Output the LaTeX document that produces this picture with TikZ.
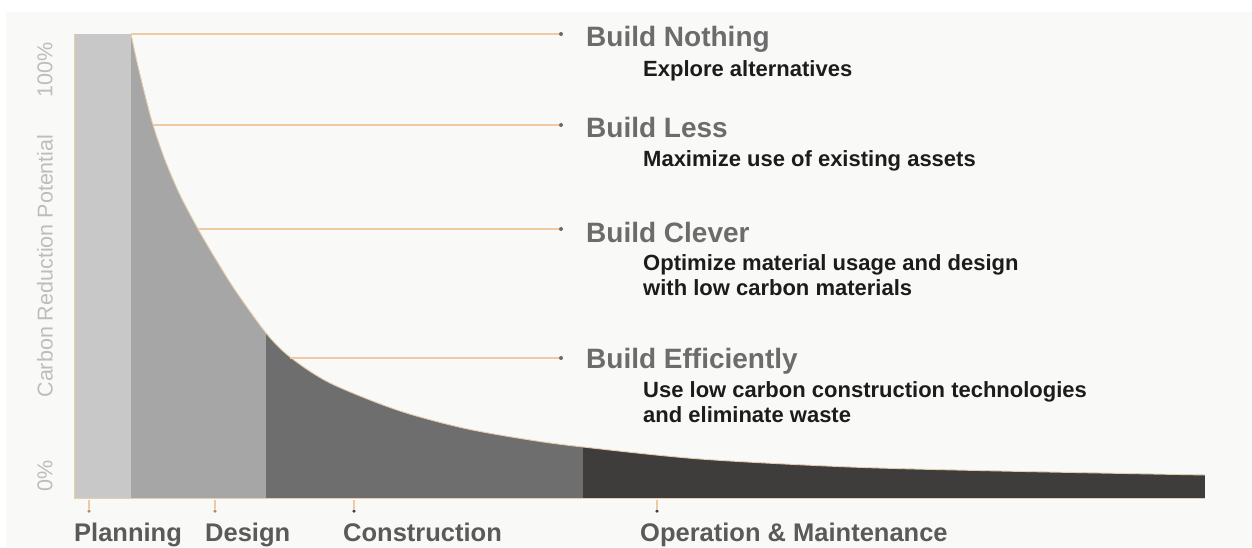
\documentclass[tikz,border=0pt]{standalone}
\usepackage{fontspec}
\setmainfont{Liberation Sans}
\definecolor{panel}{HTML}{F9F9F7}
\definecolor{cplan}{HTML}{C8C8C8}
\definecolor{cdesign}{HTML}{A6A6A6}
\definecolor{cconst}{HTML}{6E6E6E}
\definecolor{coper}{HTML}{3F3D3B}
\definecolor{lead}{HTML}{F0C9A2}
\definecolor{edge}{HTML}{E6CDAE}
\definecolor{titlegrey}{HTML}{6C6C6C}
\definecolor{subblack}{HTML}{1C1C1C}
\definecolor{axisgrey}{HTML}{BDBDBD}
\definecolor{labgrey}{HTML}{5A5A5A}
\definecolor{dotgrey}{HTML}{6A6A6A}
\tikzset{
  leader/.style={draw=lead, line width=1.4pt},
  enddot/.style={circle, fill=dotgrey, inner sep=0pt, minimum size=4pt},
  title/.style={anchor=base west, inner sep=0pt, text=titlegrey, font=\fontsize{28}{28}\selectfont\bfseries},
  sub/.style={anchor=base west, inner sep=0pt, text=subblack, align=left, font=\fontsize{22}{24.5}\selectfont\bfseries},
  phase/.style={anchor=base west, inner sep=0pt, text=labgrey, font=\fontsize{25.5}{25.5}\selectfont\bfseries},
  axislab/.style={rotate=90, inner sep=0pt, text=axisgrey, font=\fontsize{21.5}{21.5}\selectfont},
  tickline/.style={draw=lead, line width=1.2pt},
  tickdot/.style={circle, inner sep=0pt, minimum size=3.5pt},
}
\begin{document}
\begin{tikzpicture}[x=1pt, y=-1pt]
\useasboundingbox (0,0) rectangle (1252,547);
\fill[white] (0,0) rectangle (1252,547);
\fill[panel] (6,12) rectangle (1252,547);

% area under the curve
\def\curvepath{(131,34) (137,62) (145,95) (153,125) (165,160) (180,195) (198,229) (215,258) (235,290) (266,333) (290,357) (330,383) (397,410) (463,428) (530,440) (583,447) (700,459) (850,467) (1000,471) (1205,475)}
\begin{scope}
  \clip (131,498) -- plot[smooth, tension=0.5] coordinates {\curvepath} -- (1205,498) -- cycle;
  \fill[cdesign] (131,0) rectangle (266,498);
  \fill[cconst] (266,0) rectangle (583,498);
  \fill[coper] (583,0) rectangle (1205,498);
\end{scope}
\fill[cplan] (74,34) rectangle (131,498);
\draw[edge, line width=0.9pt] plot[smooth, tension=0.5] coordinates {\curvepath};
\draw[edge, line width=0.7pt] (74,498) -- (74,34);
\draw[edge, line width=0.7pt] (74,498) -- (1205,498);

% leader lines
\coordinate (c1) at (131,34);
\coordinate (c2) at (153,125);
\coordinate (c3) at (198,229);
\coordinate (c4) at (290,358);
\node[enddot] (d1) at (561,34) {};
\node[enddot] (d2) at (561,125) {};
\node[enddot] (d3) at (561,229) {};
\node[enddot] (d4) at (561,358) {};
\draw[leader] (c1) -- (d1.west);
\draw[leader] (c2) -- (d2.west);
\draw[leader] (c3) -- (d3.west);
\draw[leader] (c4) -- (d4.west);

% titles and descriptions
\node[title] (t1) at (586,46) {Build Nothing};
\node[sub] (s1) at (643,76) {Explore alternatives};
\node[title] (t2) at (586,137) {Build Less};
\node[sub] (s2) at (643,166) {Maximize use of existing assets};
\node[title] (t3) at (586,242) {Build Clever};
\node[sub] (s3) at (643,295) {Optimize material usage and design\\with low carbon materials};
\node[title] (t4) at (586,368) {Build Efficiently};
\node[sub] (s4) at (643,422) {Use low carbon construction technologies\\and eliminate waste};

% axis labels
\node[axislab] (a100) at (45,70) {100\%};
\node[axislab] (aname) at (45,266) {Carbon Reduction Potential};
\node[axislab] (a0) at (45,476) {0\%};

% phase ticks
\coordinate (k1) at (89,500);
\coordinate (k2) at (215,500);
\coordinate (k3) at (354,500);
\coordinate (k4) at (657,500);
\node[tickdot, fill=lead!70!black] (e1) at (89,511) {};
\node[tickdot, fill=lead!70!black] (e2) at (215,511) {};
\node[tickdot, fill=black!75] (e3) at (354,511) {};
\node[tickdot, fill=black!75] (e4) at (657,511) {};
\draw[tickline] (k1) -- (e1);
\draw[tickline] (k2) -- (e2);
\draw[tickline] (k3) -- (e3);
\draw[tickline] (k4) -- (e4);

% phase labels
\node[phase] (p1) at (74,541) {Planning};
\node[phase] (p2) at (205,541) {Design};
\node[phase] (p3) at (343,541) {Construction};
\node[phase] (p4) at (640,541) {Operation \& Maintenance};
\end{tikzpicture}
\end{document}
